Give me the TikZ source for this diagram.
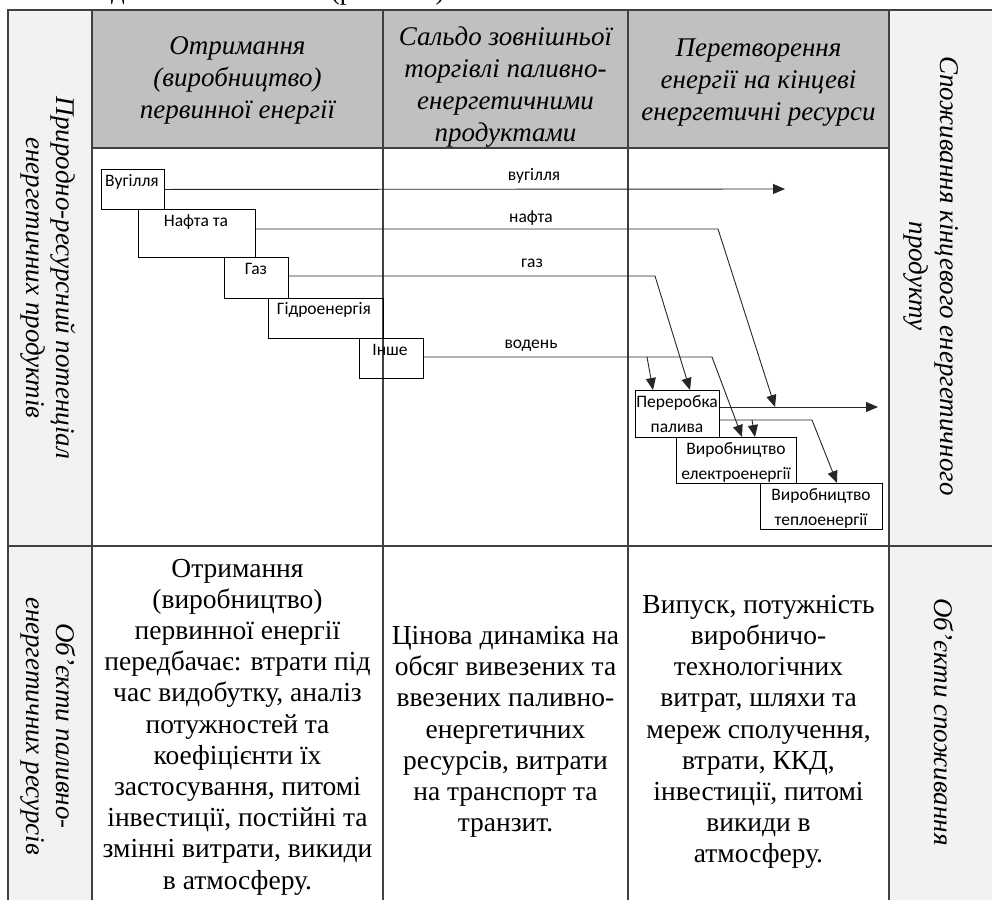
\documentclass[tikz,border=0pt]{standalone}
\usepackage{fontspec}
\setmainfont{Liberation Serif}
\newfontfamily\boxfont{Carlito}
\usetikzlibrary{arrows.meta,calc}
\definecolor{hdrgray}{RGB}{192,192,192}
\definecolor{sidegray}{RGB}{242,242,242}
\definecolor{gridcol}{RGB}{64,64,64}
\begin{document}
\begin{tikzpicture}[x=1pt,y=-1pt,
  gridline/.style={draw=gridcol, line width=1.2pt},
  hdr/.style={font=\fontsize{27}{32}\selectfont\itshape, align=center, inner sep=0},
  body/.style={font=\fontsize{27.5}{31.2}\selectfont, align=center, inner sep=0},
  side/.style={font=\fontsize{27}{30.5}\selectfont\itshape, align=center, inner sep=0, rotate=-90},
  bx/.style={draw=black, line width=0.9pt, inner sep=0, anchor=north west},
  bt/.style={font=\boxfont\fontsize{17.5}{25}\selectfont, inner sep=0, align=center},
  flow/.style={draw=black!85, line width=0.9pt},
  arr/.style={flow, -{Triangle[length=12pt,width=10pt]}},
]
\useasboundingbox (0,0) rectangle (992,900);
% residual caption fragments at the very top
\node[font=\fontsize{27}{30}\selectfont, anchor=base, inner sep=0] (capa) at (118,-1) {д};
\node[font=\fontsize{27}{30}\selectfont, anchor=base, inner sep=0] (capb) at (342,-1) {(р};
\node[font=\fontsize{27}{30}\selectfont, anchor=base, inner sep=0] (capc) at (440,-1) {)};
% backgrounds
\fill[sidegray] (8,10) rectangle (92,900);
\fill[sidegray] (889,10) rectangle (992,900);
\fill[hdrgray] (92,10) rectangle (889,148);
% grid
\draw[draw=gridcol, line width=2pt] (7,10) -- (992,10);
\foreach \xx in {8,92,383,628,889} {\draw[gridline] (\xx,10) -- (\xx,900);}
\draw[gridline] (92,148) -- (889,148);
\draw[gridline] (8,546) -- (992,546);
% headers
\node[hdr] (h1) at (237.5,80) {Отримання\\(виробництво)\\первинної енергії};
\node[hdr] (h2) at (505.5,87) {Сальдо зовнішньої\\торгівлі паливно-\\енергетичними\\продуктами};
\node[hdr] (h3) at (758.5,83) {Перетворення\\енергії на кінцеві\\енергетичні ресурси};
% side labels
\node[side] (s1) at (48,278) {Природно-ресурсний потенціал\\енергетичних продуктів};
\node[side] (s2) at (931,276) {Споживання кінцевого енергетичного\\продукту};
\node[side] (s3) at (48,726) {Об’єкти паливно-\\енергетичних ресурсів};
\node[side] (s4) at (944,722) {Об’єкти споживання};
% bottom body
\node[body] (b1) at (237.5,727) {Отримання\\(виробництво)\\первинної енергії\\передбачає: втрати під\\час видобутку, аналіз\\потужностей та\\коефіцієнти їх\\застосування, питомі\\інвестиції, постійні та\\змінні витрати, викиди\\в атмосферу.};
\node[body] (b2) at (505.5,732) {Цінова динаміка на\\обсяг вивезених та\\ввезених паливно-\\енергетичних\\ресурсів, витрати\\на транспорт та\\транзит.};
\node[body] (b3) at (758.5,732) {Випуск, потужність\\виробничо-\\технологічних\\витрат, шляхи та\\мереж сполучення,\\втрати, ККД,\\інвестиції, питомі\\викиди в\\атмосферу.};
% diagram boxes
\node[bx, minimum width=63pt, minimum height=40pt] (vug) at (101,169) {};
\node[bx, minimum width=117pt, minimum height=48pt] (naf) at (138,209) {};
\node[bx, minimum width=64pt, minimum height=41pt] (gaz) at (224,257) {};
\node[bx, minimum width=115pt, minimum height=40pt] (hyd) at (268,298) {};
\node[bx, minimum width=64pt, minimum height=40pt] (insh) at (359,338) {};
\node[bx, minimum width=84pt, minimum height=47pt] (per) at (635,390) {};
\node[bx, minimum width=120pt, minimum height=46pt] (el) at (676,437) {};
\node[bx, minimum width=122pt, minimum height=46pt] (tep) at (760,483) {};
% box texts
\node[bt] (tvug) at (132,182) {Вугілля};
\node[bt] (tnaf) at (196,222) {Нафта та};
\node[bt] (tgaz) at (256,269) {Газ};
\node[bt] (thyd) at (324,310) {Гідроенергія};
\node[bt] (tinsh) at (390,350) {Інше};
\node[bt] (tper) at (677,414.5) {Переробка\\палива};
\node[bt] (tel) at (736,462.5) {Виробництво\\електроенергії};
\node[bt] (ttep) at (821,508.5) {Виробництво\\теплоенергії};
% flow labels
\node[bt] (lvug) at (534,176) {вугілля};
\node[bt] (lnaf) at (531,218) {нафта};
\node[bt] (lgaz) at (532,263) {газ};
\node[bt] (lvod) at (531,346) {водень};
% coordinates
\coordinate (vugEnd) at (785,189);
\coordinate (nafBend) at (718,229);
\coordinate (nafEnd) at (775,407);
\coordinate (gazBend) at (655,276);
\coordinate (vodBend) at (712,357);
\coordinate (vodBr) at (647,357);
\coordinate (outEnd) at (878,407);
\coordinate (tepBend) at (812,420);
\coordinate (tepBr) at (752,420);
% flows
\draw[arr] (vug.east) -- (vugEnd);
\draw[arr] ($(naf.north east)+(0,20)$) -- (nafBend) -- (nafEnd);
\draw[arr] ($(gaz.north east)+(0,19)$) -- (gazBend) -- ($(per.north west)+(55,0)$);
\draw[arr] ($(insh.north east)+(0,19)$) -- (vodBend) -- ($(el.north west)+(66,0)$);
\draw[arr] (vodBr) -- ($(per.north west)+(18,0)$);
\draw[arr] ($(per.north east)+(0,17)$) -- (outEnd);
\draw[arr] ($(per.north east)+(0,30)$) -- (tepBend) -- ($(tep.north west)+(77,0)$);
\draw[arr] (tepBr) -- ($(el.north west)+(79,0)$);
\end{tikzpicture}
\end{document}
